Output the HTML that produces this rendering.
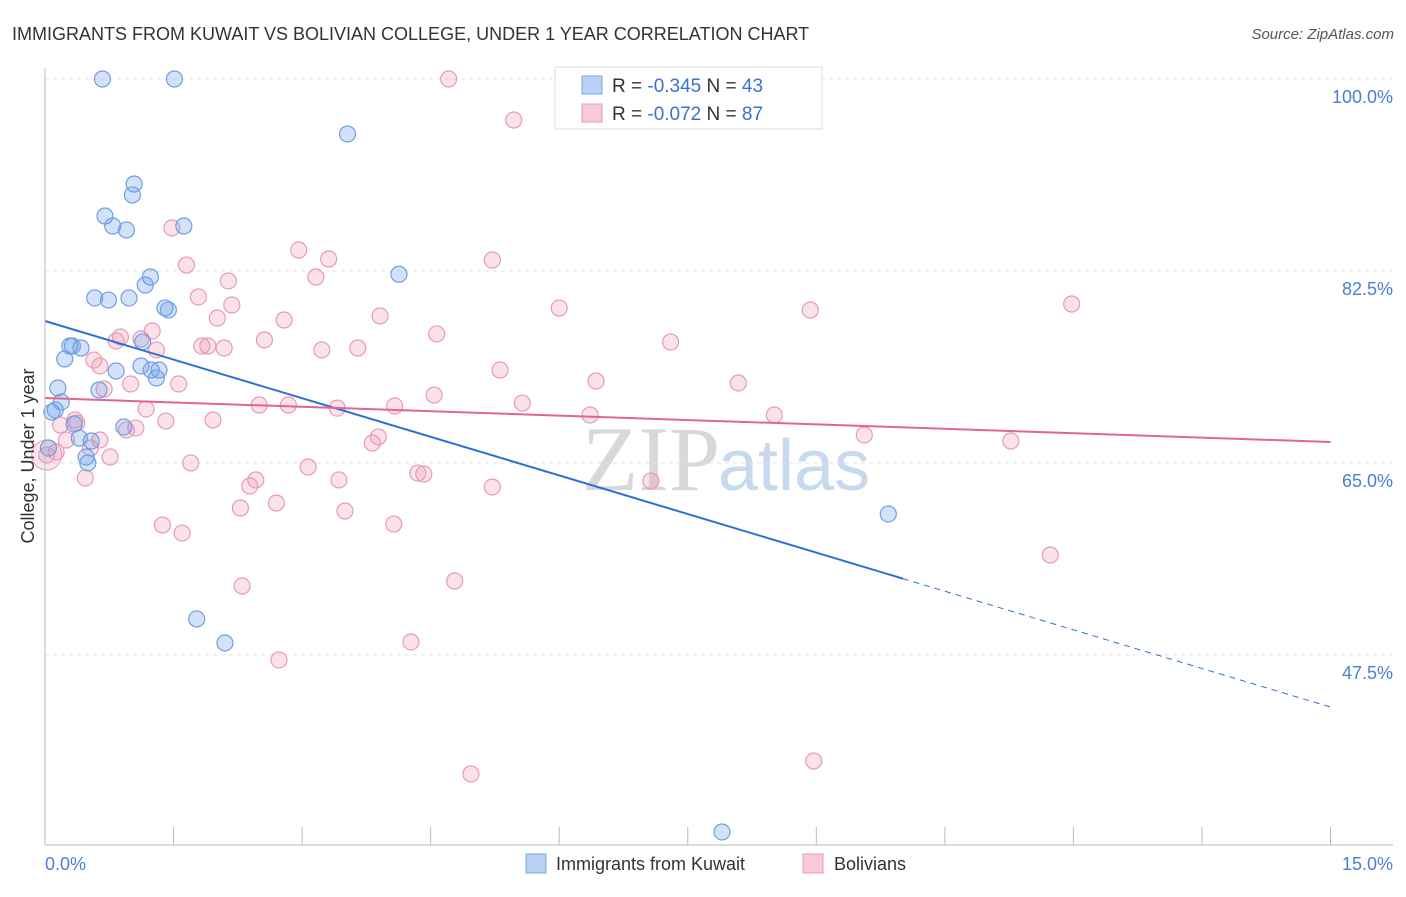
<!DOCTYPE html>
<html><head><meta charset="utf-8">
<style>
body{margin:0;background:#fff;font-family:"Liberation Sans",sans-serif;}
svg text{font-family:"Liberation Sans",sans-serif;}
</style></head>
<body>
<svg id="chart" width="1406" height="892" viewBox="0 0 1406 892" xmlns="http://www.w3.org/2000/svg">
<text x="12" y="40" font-size="18" fill="#333">IMMIGRANTS FROM KUWAIT VS BOLIVIAN COLLEGE, UNDER 1 YEAR CORRELATION CHART</text>
<text x="1394" y="39" font-size="15" fill="#555" text-anchor="end" font-style="italic">Source: ZipAtlas.com</text>
<text x="720" y="490" font-size="92" fill="#d8d8d8" text-anchor="end" font-family="Liberation Serif" style="font-family:'Liberation Serif',serif">ZIP</text>
<text x="718" y="490" font-size="72" fill="#c7d9ef">atlas</text>
<g id="grid"></g>
<g id="marks"></g>
<g id="trends"></g>
<g id="axes"></g>
<text x="34" y="456" font-size="18" fill="#333" text-anchor="middle" transform="rotate(-90 34 456)">College, Under 1 year</text>
<text x="45" y="870" font-size="18" fill="#4a7fd4">0.0%</text>
<text x="1393" y="870" font-size="18" fill="#4a7fd4" text-anchor="end">15.0%</text>
<g>
<rect x="555" y="67" width="267" height="62" fill="#fff" stroke="#ddd"/>
<rect x="582" y="76" width="20" height="18" fill="#b8d2f5" stroke="#7aa5e0"/>
<rect x="582" y="104" width="20" height="18" fill="#f9c9d8" stroke="#e89ab5"/>
<text x="612" y="92" font-size="19" fill="#333">R = <tspan fill="#3a72cf">-0.345</tspan>   N = <tspan fill="#3a72cf">43</tspan></text>
<text x="612" y="120" font-size="19" fill="#333">R = <tspan fill="#3a72cf">-0.072</tspan>   N = <tspan fill="#3a72cf">87</tspan></text>
</g>
<g>
<rect x="526" y="854" width="20" height="19" fill="#b8d2f5" stroke="#7aa5e0"/>
<text x="556" y="870" font-size="18" fill="#333">Immigrants from Kuwait</text>
<rect x="803" y="854" width="20" height="19" fill="#f9c9d8" stroke="#e89ab5"/>
<text x="834" y="870" font-size="18" fill="#333">Bolivians</text>
</g>
</svg>
<script>
const yTicks=[100,82.5,65,47.5];
const yTickLabels=["100.0%","82.5%","65.0%","47.5%"];
const xTicks=[0,1.5,3,4.5,6,7.5,9,10.5,12,13.5,15];
const blueX=[0.67,1.51,3.53,1.04,1.02,0.70,0.79,0.95,1.62,1.23,1.17,4.13,0.58,0.74,0.98,1.40,1.44,0.29,0.32,0.42,0.23,1.14,1.12,0.83,1.24,1.33,1.30,0.15,0.63,0.19,0.12,0.08,0.34,0.92,0.40,0.54,0.48,0.50,0.04,9.84,1.77,2.10,7.90];
const blueY=[100,100,94.99,90.43,89.43,87.51,86.6,86.24,86.6,81.95,81.22,82.2,80.04,79.85,80.04,79.13,78.95,75.66,75.66,75.48,74.48,76.03,73.84,73.38,73.47,73.47,72.74,71.83,71.65,70.56,69.83,69.64,68.55,68.28,67.27,67.0,65.54,65.0,66.36,60.35,50.78,48.59,31.36];
const pinkX=[4.71,5.47,1.48,1.65,2.96,3.31,3.16,2.14,5.22,1.79,2.18,11.98,6.00,8.93,2.01,2.79,3.91,1.25,0.88,1.12,4.57,2.56,1.90,2.09,1.83,3.23,3.65,7.30,0.83,1.30,0.57,0.64,5.31,1.00,1.56,6.43,8.09,4.54,5.57,2.50,2.84,3.41,4.08,1.18,6.36,8.51,1.96,1.41,0.37,0.18,1.06,0.95,3.89,3.82,9.56,11.27,0.64,0.25,0.53,0.13,0.02,0.76,1.70,3.07,4.35,4.42,0.47,2.46,3.43,2.39,5.22,7.07,2.70,2.28,3.50,1.37,4.07,1.60,11.73,4.78,2.30,4.27,2.73,4.97,8.97,0.69,0.35];
const pinkY=[100,96.26,86.42,83.04,84.41,83.59,81.95,81.59,83.5,80.13,79.4,79.49,79.12,78.94,78.21,78.03,78.40,77.03,76.48,76.3,76.76,76.21,75.66,75.48,75.66,75.30,75.48,76.03,76.12,75.30,74.38,73.84,73.47,72.20,72.20,72.47,72.29,71.19,70.46,70.28,70.28,70.0,70.19,69.92,69.37,69.37,68.92,68.82,68.64,68.46,68.19,68.0,67.37,66.82,67.55,67.0,67.09,67.09,66.36,66.0,65.72,65.54,65.0,64.63,64.08,63.99,63.63,63.45,63.45,62.9,62.81,63.35,61.35,60.89,60.62,59.34,59.43,58.61,56.61,54.24,53.78,48.68,47.04,36.65,37.83,71.74,68.92];
const blueTrend=[77.94,42.75], blueSolidEnd=10.01;
const pinkTrend=[70.92,66.91];
const NS="http://www.w3.org/2000/svg";
const sx=v=>45+v*85.7, sy=v=>79+(100-v)*10.97;
function mk(t,a,p){const e=document.createElementNS(NS,t);for(const k in a)e.setAttribute(k,a[k]);p.appendChild(e);return e;}
const grid=document.getElementById('grid'),axes=document.getElementById('axes'),marks=document.getElementById('marks'),trends=document.getElementById('trends');
yTicks.forEach((v,i)=>{
 const l=mk('line',{x1:45,x2:1393,y1:sy(v),y2:sy(v),stroke:'#e2e2e2','stroke-dasharray':'4,4'},grid);
 
 
 const t=mk('text',{x:1393,y:sy(v)+24,'font-size':18,fill:'#4a7fd4','text-anchor':'end'},axes);
 t.textContent=yTickLabels[i];
 
 
});
mk('line',{x1:45,x2:45,y1:68,y2:845,stroke:'#bbb'},axes);
mk('line',{x1:45,x2:1393,y1:845,y2:845,stroke:'#bbb'},axes);
xTicks.forEach(v=>{
 const l=mk('line',{x1:sx(v),x2:sx(v),y1:827,y2:845,stroke:'#bbb'},axes);
 
 
});
mk('circle',{cx:sx(0.02),cy:sy(65.72),r:15,fill:'rgba(240,150,180,0.25)',stroke:'#e89ab5'},marks);
pinkX.forEach((x,i)=>{
 const c=mk('circle',{cx:sx(x),cy:sy(pinkY[i]),r:8,fill:'rgba(240,150,180,0.28)',stroke:'#e89ab5','stroke-width':1.2},marks);
 
 
});
blueX.forEach((x,i)=>{
 const c=mk('circle',{cx:sx(x),cy:sy(blueY[i]),r:8,fill:'rgba(110,160,235,0.3)',stroke:'#6f9fe0','stroke-width':1.2},marks);
 
 
});
const by=x=>blueTrend[0]+(blueTrend[1]-blueTrend[0])*x/15;
const b1=mk('line',{x1:sx(0),y1:sy(by(0)),x2:sx(blueSolidEnd),y2:sy(by(blueSolidEnd)),stroke:'#2f6fd6','stroke-width':2},trends);


const b2=mk('line',{x1:sx(blueSolidEnd),y1:sy(by(blueSolidEnd)),x2:sx(15),y2:sy(by(15)),stroke:'#2f6fd6','stroke-width':1,'stroke-dasharray':'6,5'},trends);


const p1=mk('line',{x1:sx(0),y1:sy(pinkTrend[0]),x2:sx(15),y2:sy(pinkTrend[1]),stroke:'#e0668f','stroke-width':2},trends);


</script>
</body></html>
